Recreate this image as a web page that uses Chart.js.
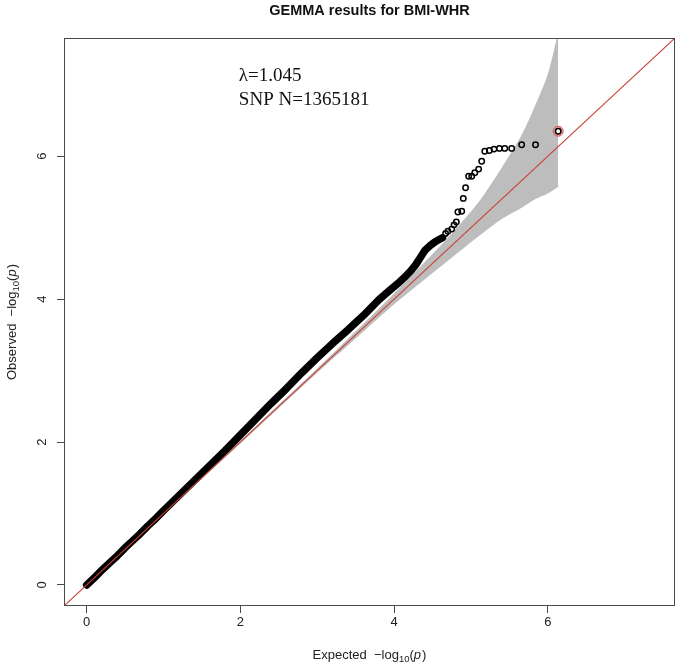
<!DOCTYPE html>
<html>
<head>
<meta charset="utf-8">
<script src="https://cdn.jsdelivr.net/npm/chart.js@4.4.1/dist/chart.umd.min.js"></script>
<style>
  html, body { margin: 0; padding: 0; background: #ffffff; }
  #wrap { width: 686px; height: 669px; position: relative; }
</style>
</head>
<body>
<div id="wrap"><canvas id="c" width="686" height="669"></canvas></div>
<script>
// ---------- data ----------
const TITLE = 'GEMMA results for BMI-WHR';
const LAMBDA_TEXT = 'λ=1.045';
const SNP_TEXT = 'SNP N=1365181';
const X_TITLE = ['Expected  \u2212log', '10', 'p'];
const Y_TITLE = ['Observed  \u2212log', '10', 'p'];
const AXIS_MIN = -0.295;
const AXIS_MAX = 7.655;
const TICKS = [0, 2, 4, 6];

// dense bulk of the QQ points (appears as a thick black band)
const denseX = [0, 0.1, 0.2, 0.3, 0.4, 0.5, 0.6, 0.7, 0.8, 0.9, 1.0, 1.2, 1.4, 1.6, 1.8, 2.0, 2.2, 2.4, 2.6, 2.8, 3.0, 3.2, 3.4, 3.6, 3.8, 3.95, 4.05, 4.15, 4.22, 4.28, 4.34, 4.40, 4.47, 4.53, 4.58, 4.63];
const denseY = [0, 0.10, 0.21, 0.31, 0.41, 0.52, 0.62, 0.72, 0.83, 0.93, 1.04, 1.25, 1.46, 1.67, 1.88, 2.10, 2.32, 2.54, 2.75, 2.97, 3.18, 3.38, 3.57, 3.77, 3.99, 4.13, 4.22, 4.32, 4.40, 4.48, 4.58, 4.68, 4.75, 4.80, 4.83, 4.86];

// individually visible top points
const tailX = [4.67, 4.70, 4.75, 4.78, 4.81, 4.83, 4.88, 4.90, 4.93, 4.97, 5.01, 5.05, 5.10, 5.14, 5.18, 5.24, 5.30, 5.37, 5.44, 5.53, 5.66, 5.84];
const tailY = [4.92, 4.95, 4.98, 5.04, 5.08, 5.22, 5.23, 5.41, 5.56, 5.72, 5.72, 5.77, 5.82, 5.93, 6.07, 6.08, 6.10, 6.11, 6.11, 6.11, 6.16, 6.16];

// top SNP (highlighted)
const topX = [6.135];
const topY = [6.35];

// 95% confidence band
const bandX     = [0, 1.0, 2.0, 3.0, 3.5, 4.0, 4.4, 4.75, 5.1, 5.4, 5.66, 5.84, 6.0, 6.135];
const bandUpper = [0, 1.01, 2.02, 3.03, 3.55, 4.08, 4.52, 4.92, 5.36, 5.84, 6.30, 6.72, 7.15, 7.73];
const bandLower = [0, 0.99, 1.98, 2.97, 3.45, 3.93, 4.28, 4.58, 4.88, 5.12, 5.28, 5.40, 5.48, 5.57];

// y = x reference line spans the axis range
const diagX = [AXIS_MIN, AXIS_MAX];

const zip = (xs, ys) => xs.map((v, i) => ({ x: v, y: ys[i] }));

const SANS = '"Liberation Sans", Arial, Helvetica, sans-serif';
const SERIF = '"Liberation Serif", "Times New Roman", serif';

function drawSubTitle(ctx, parts, cx, cy) {
  const big = '13px ' + SANS, small = '9.5px ' + SANS, ital = 'italic 13px ' + SANS;
  ctx.font = big; const w1 = ctx.measureText(parts[0]).width;
  ctx.font = small; const w2 = ctx.measureText(parts[1]).width;
  ctx.font = big; const wo = ctx.measureText('(').width, wc = ctx.measureText(')').width;
  ctx.font = ital; const wp = ctx.measureText(parts[2]).width;
  const total = w1 + w2 + wo + wp + wc + 1;
  let x = cx - total / 2;
  ctx.textAlign = 'left'; ctx.textBaseline = 'alphabetic';
  const base = cy + 4.5;
  ctx.font = big; ctx.fillText(parts[0], x, base); x += w1;
  ctx.font = small; ctx.fillText(parts[1], x, base + 3); x += w2;
  ctx.font = big; ctx.fillText('(', x, base); x += wo;
  ctx.font = ital; ctx.fillText(parts[2], x, base); x += wp + 1;
  ctx.font = big; ctx.fillText(')', x, base);
}

const decor = {
  id: 'decor',
  afterDraw(chart) {
    const { ctx, chartArea: a, scales } = chart;
    const sx = scales.x, sy = scales.y;
    ctx.save();
    // frame
    ctx.strokeStyle = '#4a4a4a';
    ctx.lineWidth = 1;
    ctx.strokeRect(Math.round(a.left) + 0.5, Math.round(a.top) + 0.5,
                   Math.round(a.right - a.left) - 1, Math.round(a.bottom - a.top) - 1);
    // title
    ctx.fillStyle = '#111';
    ctx.font = 'bold 14.5px ' + SANS;
    ctx.textAlign = 'center'; ctx.textBaseline = 'middle';
    ctx.fillText(TITLE, (a.left + a.right) / 2, 11);
    // y tick labels, rotated like R
    ctx.font = '13px ' + SANS;
    ctx.fillStyle = '#222';
    TICKS.forEach(t => {
      const py = sy.getPixelForValue(t);
      ctx.save();
      ctx.translate(42, py);
      ctx.rotate(-Math.PI / 2);
      ctx.textAlign = 'center'; ctx.textBaseline = 'middle';
      ctx.fillText(String(t), 0, 0);
      ctx.restore();
    });
    // axis titles
    ctx.fillStyle = '#222';
    drawSubTitle(ctx, X_TITLE, (a.left + a.right) / 2, 654);
    ctx.save();
    ctx.translate(11, (a.top + a.bottom) / 2);
    ctx.rotate(-Math.PI / 2);
    drawSubTitle(ctx, Y_TITLE, 0, 0);
    ctx.restore();
    // annotation
    ctx.fillStyle = '#111';
    ctx.font = '19px ' + SERIF;
    ctx.textAlign = 'left'; ctx.textBaseline = 'alphabetic';
    ctx.fillText(LAMBDA_TEXT, sx.getPixelForValue(1.98), sy.getPixelForValue(7.05));
    ctx.fillText(SNP_TEXT, sx.getPixelForValue(1.98), sy.getPixelForValue(6.715));
    ctx.restore();
  }
};

const axisCommon = {
  type: 'linear',
  min: AXIS_MIN,
  max: AXIS_MAX,
  border: { display: false },
  grid: {
    drawOnChartArea: false,
    drawTicks: true,
    tickLength: 7,
    tickColor: '#4a4a4a',
    tickWidth: 1
  }
};

new Chart(document.getElementById('c'), {
  type: 'line',
  data: {
    datasets: [
      { label: 'Expected', data: zip(diagX, diagX), borderColor: '#c9423a', borderWidth: 1.1,
        pointRadius: 0, fill: false, tension: 0 },
      { label: 'Top SNP', data: zip(topX, topY), showLine: false, pointRadius: 2.7, pointBorderWidth: 1.5,
        pointBorderColor: '#000', pointBackgroundColor: '#ffffff' },
      { label: 'Top SNP mark', data: zip(topX, topY), showLine: false, pointRadius: 5, pointBorderWidth: 1,
        pointBorderColor: '#d25a5a', pointBackgroundColor: '#e79a9a' },
      { label: 'Tail', data: zip(tailX, tailY), showLine: false, pointRadius: 2.7, pointBorderWidth: 1.5,
        pointBorderColor: '#000', pointBackgroundColor: 'rgba(0,0,0,0)' },
      { label: 'Observed', data: zip(denseX, denseY), borderColor: '#000', borderWidth: 7.5,
        borderCapStyle: 'round', borderJoinStyle: 'round', pointRadius: 0, fill: false, tension: 0 },
      { label: 'CI upper', data: zip(bandX, bandUpper), borderWidth: 0, borderColor: 'rgba(0,0,0,0)',
        pointRadius: 0, backgroundColor: '#bdbdbd', fill: '+1', tension: 0.3 },
      { label: 'CI lower', data: zip(bandX, bandLower), borderWidth: 0, borderColor: 'rgba(0,0,0,0)',
        pointRadius: 0, fill: false, tension: 0.3 }
    ]
  },
  options: {
    responsive: false,
    animation: false,
    parsing: true,
    layout: { padding: { top: 38, right: 11, left: 0, bottom: 0 } },
    plugins: {
      legend: { display: false },
      tooltip: { enabled: false },
      title: { display: false }
    },
    elements: { line: { capBezierPoints: true } },
    scales: {
      x: Object.assign({}, axisCommon, {
        afterFit: s => { s.height = 63; },
        afterBuildTicks: s => { s.ticks = TICKS.map(v => ({ value: v })); },
        ticks: { color: '#222', font: { family: SANS, size: 13 }, padding: 2, maxRotation: 0, autoSkip: false }
      }),
      y: Object.assign({}, axisCommon, {
        afterFit: s => { s.width = 64; },
        afterBuildTicks: s => { s.ticks = TICKS.map(v => ({ value: v })); },
        ticks: { display: false }
      })
    }
  },
  plugins: [decor]
});
</script>
</body>
</html>
